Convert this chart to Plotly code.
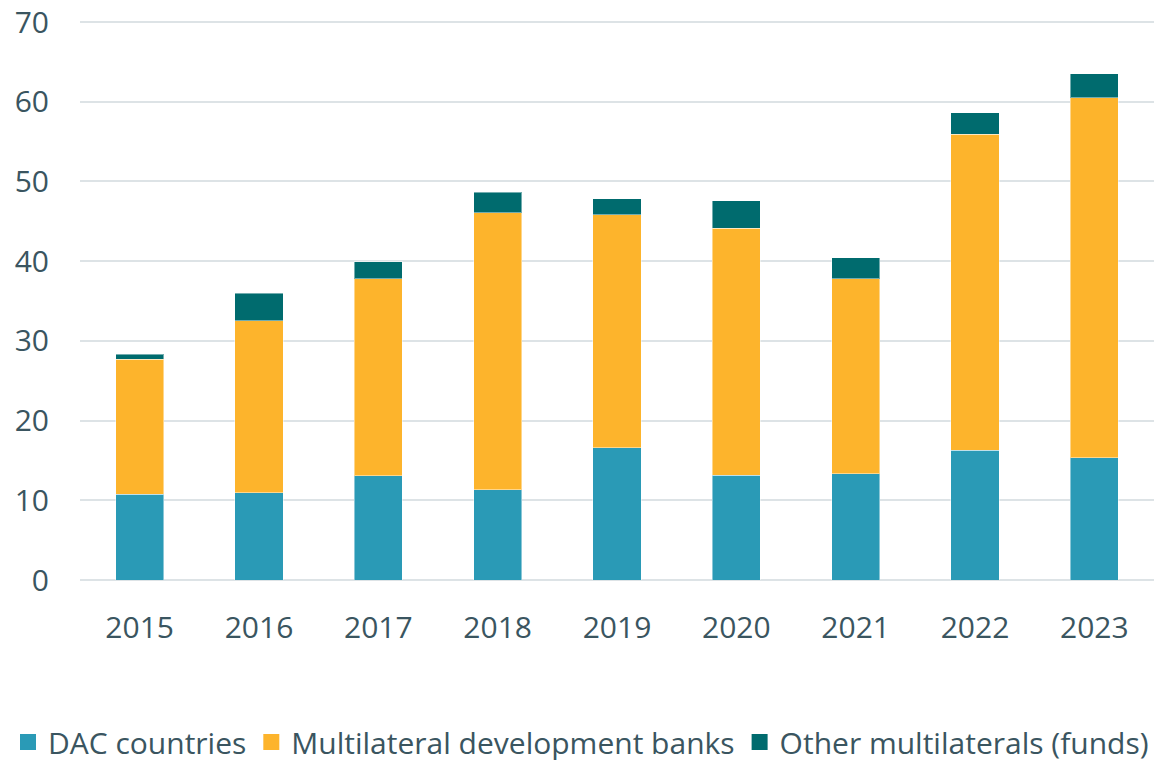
import plotly.graph_objects as go

years = ["2015", "2016", "2017", "2018", "2019", "2020", "2021", "2022", "2023"]
dac = [10.75, 10.95, 13.1, 11.33, 16.6, 13.17, 13.34, 16.3, 15.35]
mdb = [16.95, 21.55, 24.67, 34.72, 29.2, 30.93, 24.43, 39.6, 45.15]
other = [0.65, 3.45, 2.17, 2.59, 2.05, 3.45, 2.63, 2.7, 3.0]
ytick_vals = [0, 10, 20, 30, 40, 50, 60, 70]

names = ["DAC countries", "Multilateral development banks", "Other multilaterals (funds)"]
colors = ["#2A9AB6", "#FDB42C", "#006B6E"]
series = [dac, mdb, other]

TEXT = "#3A5560"
FONT = "Open Sans"

fig = go.Figure()
for name, vals, col in zip(names, series, colors):
    fig.add_trace(go.Bar(
        x=years, y=vals, name=name, marker_color=col,
        marker_line=dict(color="rgba(255,255,255,0.45)", width=1),
        showlegend=False,
    ))
# legend entries with larger square swatches
for name, col in zip(names, colors):
    fig.add_trace(go.Scatter(
        x=[None], y=[None], mode="markers", name=name,
        marker=dict(symbol="square", size=20, color=col),
        showlegend=True,
    ))

W, H = 1173, 760
L, R, T, B = 72, 27, 0, 188
PW = W - L - R
PH = H - T - B
# 70 sits 14px below the top of the plotting area
y_top = 70 * PH / (PH - 14)

fig.update_layout(
    barmode="stack",
    bargap=0.597,
    width=W, height=H,
    margin=dict(l=L, r=R, t=T, b=B),
    paper_bgcolor="white", plot_bgcolor="white",
    font=dict(family=FONT, size=30, color=TEXT),
    legend=dict(
        orientation="h",
        xref="paper", x=-L / PW, xanchor="left",
        yref="paper", y=-(734 - PH) / PH, yanchor="middle",
        font=dict(family=FONT, size=30, color=TEXT),
        itemwidth=30, tracegroupgap=0, traceorder="normal",
        bgcolor="rgba(0,0,0,0)",
    ),
    xaxis=dict(
        showgrid=False, showline=False, ticks="", automargin=False,
        tickfont=dict(family=FONT, size=30, color=TEXT),
        ticklabelstandoff=27,
    ),
    yaxis=dict(
        range=[0, y_top], tickmode="array", tickvals=ytick_vals,
        showline=False, ticks="", automargin=False, ticklabeloverflow="allow",
        gridcolor="#DDE3E6", gridwidth=2,
        zeroline=True, zerolinecolor="#DDE3E6", zerolinewidth=2,
        tickfont=dict(family=FONT, size=30, color=TEXT),
        ticklabelstandoff=30,
    ),
)

fig.write_html("out.html")
